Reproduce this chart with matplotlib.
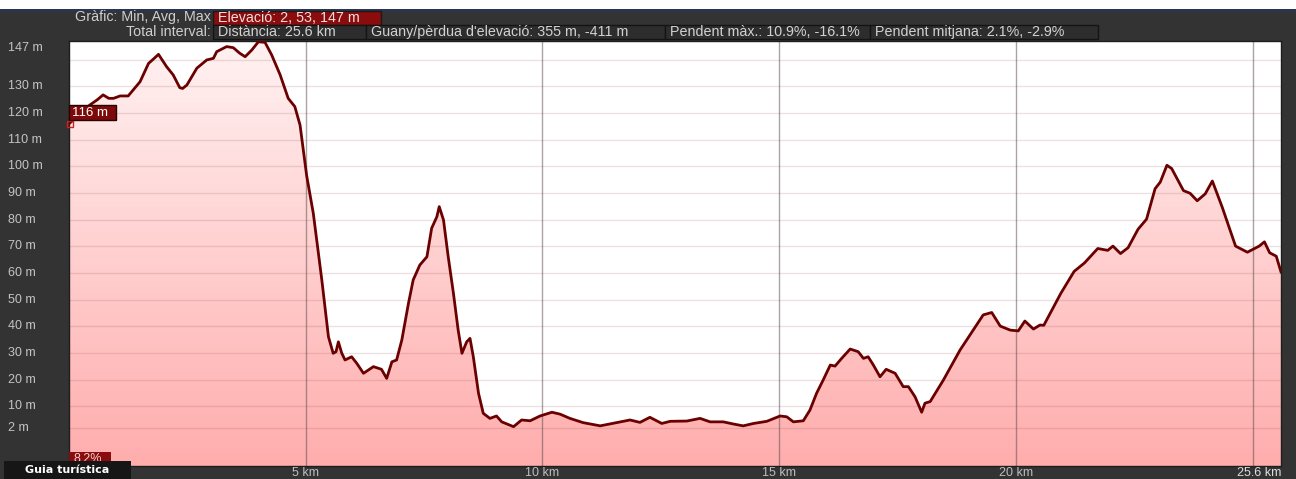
import numpy as np
import matplotlib
matplotlib.use("Agg")
import matplotlib.pyplot as plt
from matplotlib.patches import Rectangle
from matplotlib.colors import LinearSegmentedColormap

# elevation profile (km, m)
km = [0.00, 0.20, 0.44, 0.60, 0.72, 0.84, 0.94, 1.08, 1.25, 1.50, 1.68, 1.80,
      1.89, 2.06, 2.20, 2.34, 2.40, 2.49, 2.70, 2.91, 3.05, 3.12, 3.33, 3.47,
      3.60, 3.72, 3.86, 4.00, 4.14, 4.28, 4.46, 4.63, 4.77, 4.88, 5.02, 5.16,
      5.34, 5.48, 5.58, 5.64, 5.69, 5.76, 5.83, 5.97, 6.08, 6.22, 6.43, 6.60,
      6.71, 6.82, 6.92, 7.03, 7.17, 7.27, 7.41, 7.56, 7.66, 7.77, 7.82, 7.91,
      8.01, 8.12, 8.22, 8.30, 8.40, 8.47, 8.54, 8.65, 8.75, 8.89, 9.03, 9.14,
      9.39, 9.56, 9.74, 9.95, 10.20, 10.37, 10.58, 10.86, 11.22, 11.57, 11.85,
      12.06, 12.27, 12.52, 12.70, 13.05, 13.33, 13.54, 13.82, 14.03, 14.24,
      14.46, 14.74, 15.02, 15.16, 15.30, 15.51, 15.65, 15.79, 15.93, 16.08,
      16.18, 16.32, 16.50, 16.67, 16.78, 16.88, 16.99, 17.13, 17.26, 17.45,
      17.62, 17.73, 17.87, 18.01, 18.08, 18.19, 18.47, 18.82, 19.10, 19.31,
      19.49, 19.67, 19.88, 20.05, 20.19, 20.37, 20.51, 20.59, 20.95, 21.23,
      21.45, 21.73, 21.94, 22.05, 22.21, 22.37, 22.58, 22.76, 22.94, 23.05,
      23.19, 23.29, 23.54, 23.68, 23.83, 24.00, 24.15, 24.36, 24.64, 24.89,
      25.14, 25.25, 25.36, 25.50, 25.60]
elev = [116, 119, 123, 125, 126.8, 125.5, 125.5, 126.4, 126.4, 131.7, 138.6, 140.5,
        142.0, 137.4, 134.3, 129.5, 129.2, 130.5, 136.8, 139.9, 140.5, 143, 144.9, 144.5,
        142.5, 141.1, 143.6, 146.7, 146.5, 141.8, 134.3, 125.5, 122.4, 115.5, 96.5, 82.4,
        57.4, 36.1, 29.9, 30.5, 34.2, 30.0, 27.4, 28.6, 26.1, 22.4, 24.9, 23.9,
        20.5, 26.7, 27.4, 34.9, 48.6, 57.4, 63.0, 66.1, 76.8, 81.1, 84.9, 79.9,
        66.1, 52.4, 38.6, 29.9, 34.2, 35.5, 28.6, 14.9, 7.4, 5.5, 6.4, 4.2,
        2.4, 4.9, 4.6, 6.4, 7.8, 7.1, 5.5, 3.9, 2.7, 3.9, 4.9,
        4.0, 5.9, 3.6, 4.4, 4.5, 5.5, 4.2, 4.2, 3.4, 2.7,
        3.6, 4.4, 6.4, 6.1, 4.2, 4.6, 8.6, 14.9, 19.9, 25.5,
        25.1, 28.0, 31.5, 30.5, 28.0, 28.6, 25.5, 21.1, 23.9, 22.4,
        17.4, 17.4, 13.6, 7.8, 11.2, 11.8, 19.9, 31.1, 38.6, 44.3,
        45.2, 40.1, 38.6, 38.3, 42.0, 39.0, 40.5, 40.4, 52.4, 60.6,
        63.8, 69.2, 68.5, 70.1, 67.3, 69.5, 76.4, 80.2, 91.6, 94.1,
        100.4, 99.2, 90.9, 89.9, 87.1, 89.7, 94.5, 84.6, 70.1, 67.8,
        70.1, 71.7, 67.6, 66.3, 60.4]

ytick_vals = [147, 130, 120, 110, 100, 90, 80, 70, 60, 50, 40, 30, 20, 10, 2]
grid_vals = [2, 10, 20, 30, 40, 50, 60, 70, 80, 90, 100, 110, 120, 130, 140]
xtick_vals = [5, 10, 15, 20]
xtick_labels = ["5 km", "10 km", "15 km", "20 km"]
header_row1 = ("Gràfic: Min, Avg, Max", "Elevació: 2, 53, 147 m")
header_row2 = ["Distància: 25.6 km", "Guany/pèrdua d'elevació: 355 m, -411 m",
               "Pendent màx.: 10.9%, -16.1%", "Pendent mitjana: 2.1%, -2.9%"]

W, H = 1296, 479
FONT = ["Liberation Sans", "DejaVu Sans"]
DARKRED = "#7c0a0a"

fig = plt.figure(figsize=(W / 100, H / 100), dpi=100, facecolor="#333333")


def fx(x):
    return x / W


def fy(y):
    return 1 - y / H


def box(x0, y0, x1, y1, fc, ec="none", z=5, lw=1):
    fig.add_artist(Rectangle((fx(x0), fy(y1)), fx(x1 - x0), (y1 - y0) / H,
                             transform=fig.transFigure, facecolor=fc,
                             edgecolor=ec, lw=lw, zorder=z))


# top strip
box(0, 0, W, 9, "white", z=1)
box(0, 9, W, 12, "#2a3550", z=1)

# header
HS = 10.3
fig.text(fx(211), fy(17.5), header_row1[0], ha="right", va="center",
         color="#cfcfcf", fontsize=HS, family=FONT)
box(213, 11, 381, 24.5, "#8a0c0c", ec="#1a1a1a")
fig.text(fx(218), fy(17.5), header_row1[1], ha="left", va="center",
         color="#f0e0e0", fontsize=HS, family=FONT, zorder=6)
fig.text(fx(211), fy(32), "Total interval:", ha="right", va="center",
         color="#cfcfcf", fontsize=HS, family=FONT)
edges = [213, 366, 665, 870, 1098]
for i, t in enumerate(header_row2):
    box(edges[i], 25, edges[i + 1], 39, "#2d2d2d", ec="#141414")
    fig.text(fx(edges[i] + 5), fy(32), t, ha="left", va="center",
             color="#d2d2d2", fontsize=HS, family=FONT, zorder=6)

# plot area
x0p, x1p, y0p, y1p = 69, 1281, 41, 466
ax = fig.add_axes([fx(x0p), fy(y1p), fx(x1p - x0p), (y1p - y0p) / H])
ymax = 147
ymin = ymax - (y1p - y0p) / 2.667
ax.set_xlim(0, 25.6)
ax.set_ylim(ymin, ymax)
ax.set_facecolor("white")

cmap = LinearSegmentedColormap.from_list("pinkgrad", ["#fff2f2", "#ffadad"])
grad = np.linspace(0, 1, 256).reshape(-1, 1)
im = ax.imshow(grad, extent=[0, 25.6, ymin, ymax], aspect="auto", cmap=cmap,
               zorder=1, origin="upper")
poly = ax.fill_between(km, elev, ymin, color="none", lw=0)
im.set_clip_path(poly.get_paths()[0], transform=ax.transData)
ax.set_xlim(0, 25.6)
ax.set_ylim(ymin, ymax)

for g in grid_vals:
    ax.axhline(g, color=(0.55, 0.25, 0.25, 0.16), lw=1, zorder=2)
for v in [5, 10, 15, 20, 25]:
    ax.axvline(v, color=(0.35, 0.28, 0.28, 0.5), lw=1, zorder=2)

ax.plot(km, elev, color="#6a0000", lw=2, zorder=3, solid_joinstyle="round")
ax.plot([0.02], [elev[0]], marker="s", ms=4.5, mfc="none", mec="#d02020",
        mew=1, zorder=4, clip_on=False)

ax.set_xticks([])
ax.set_yticks([])
for s in ax.spines.values():
    s.set_color("#1e1e1e")
    s.set_linewidth(1)

# y labels
for v in ytick_vals:
    py = y0p + (ymax - v) * 2.667
    if v == 147:
        fig.text(fx(8), fy(py + 1), f"{v} m", ha="left", va="top",
                 color="#c4c4c4", fontsize=9, family=FONT)
    else:
        fig.text(fx(8), fy(py), f"{v} m", ha="left", va="center",
                 color="#c4c4c4", fontsize=9, family=FONT)

# x labels
for v, t in zip(xtick_vals, xtick_labels):
    px = x0p + v * (x1p - x0p) / 25.6
    fig.text(fx(px), fy(472.5), t, ha="center", va="center",
             color="#bdbdbd", fontsize=9, family=FONT)
fig.text(fx(1281), fy(472.5), "25.6 km", ha="right", va="center",
         color="#dddddd", fontsize=9, family=FONT)

# annotations
box(69, 105, 116, 120, DARKRED, ec="#2a0000", z=8)
fig.text(fx(72), fy(112.5), "116 m", ha="left", va="center", color="white",
         fontsize=9.5, family=FONT, zorder=9)
box(69, 452, 111, 466, "#8a0c0c", z=8)
fig.text(fx(74), fy(459), "8.2%", ha="left", va="center", color="#f0d0d0",
         fontsize=9, family=FONT, zorder=9)
box(4, 461, 131, 479, "#161616", z=10)
fig.text(fx(67), fy(470), "Guia turística", ha="center", va="center",
         color="white", fontsize=8, fontweight="bold",
         family=["DejaVu Sans"], zorder=11)

fig.savefig("out.png", dpi=100, facecolor=fig.get_facecolor())
